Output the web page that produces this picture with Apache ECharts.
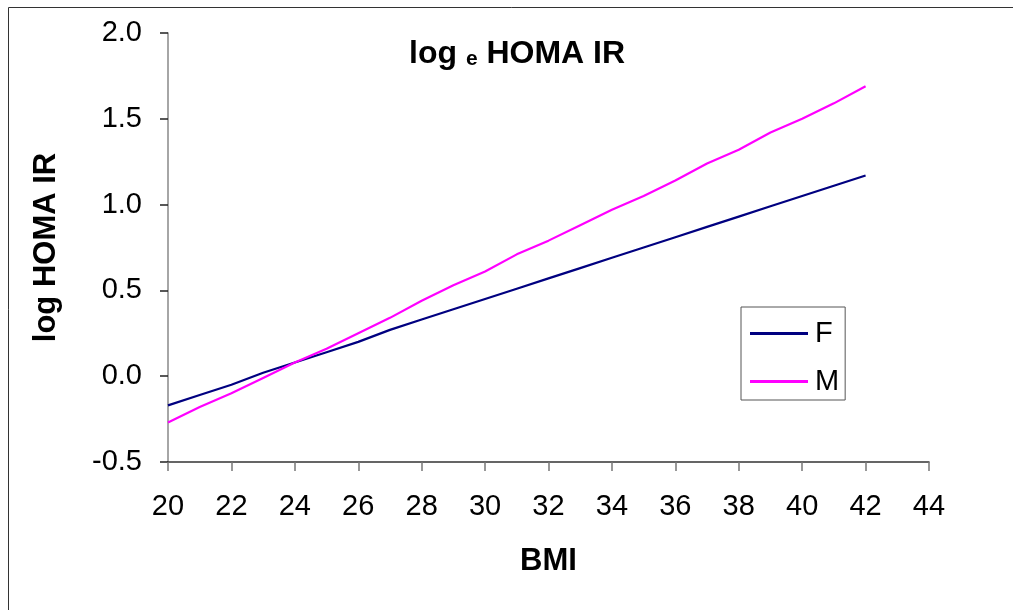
<!DOCTYPE html>
<html>
<head>
<meta charset="utf-8">
<script src="https://cdn.jsdelivr.net/npm/echarts@6/dist/echarts.min.js"></script>
<style>
  html, body { margin: 0; padding: 0; background: #fff; }
  #chart { width: 1013px; height: 610px; }
</style>
</head>
<body>
<div id="chart"></div>
<script>
// BMI values at which both fitted curves are sampled
const bmi = [20, 21, 22, 23, 24, 25, 26, 27, 28, 29, 30, 31, 32, 33, 34, 35, 36, 37, 38, 39, 40, 41, 42];
// Fitted log HOMA IR, females
const femaleVals = [-0.17, -0.11, -0.05, 0.02, 0.08, 0.14, 0.20, 0.27, 0.33, 0.39, 0.45, 0.51, 0.57, 0.63, 0.69, 0.75, 0.81, 0.87, 0.93, 0.99, 1.05, 1.11, 1.17];
// Fitted log HOMA IR, males
const maleVals = [-0.27, -0.18, -0.10, -0.01, 0.08, 0.16, 0.25, 0.34, 0.44, 0.53, 0.61, 0.71, 0.79, 0.88, 0.97, 1.05, 1.14, 1.24, 1.32, 1.42, 1.50, 1.59, 1.69];
const seriesNames = ['F', 'M'];

const FONT = '"Liberation Sans", Arial, sans-serif';

const pairs = (ys) => bmi.map((x, i) => [x, ys[i]]);

const chart = echarts.init(document.getElementById('chart'), null, { renderer: 'canvas' });

chart.setOption({
  backgroundColor: '#ffffff',
  animation: false,
  textStyle: { fontFamily: FONT, color: '#000' },
  title: {
    left: 404,
    top: 29,
    text: '{a|log }{b|e}{a| HOMA IR}',
    textStyle: {
      rich: {
        a: { fontFamily: FONT, fontSize: 32, fontWeight: 'bold', color: '#000', lineHeight: 36, verticalAlign: 'bottom' },
        b: { fontFamily: FONT, fontSize: 21, fontWeight: 'bold', color: '#000', lineHeight: 36, verticalAlign: 'bottom' }
      }
    }
  },
  graphic: [{
    type: 'rect',
    silent: true,
    shape: { x: 8.5, y: 7.5, width: 1100, height: 700 },
    style: { fill: 'none', stroke: '#333', lineWidth: 1 }
  }],
  legend: {
    orient: 'vertical',
    left: 741,
    top: 307,
    data: seriesNames,
    icon: 'rect',
    itemWidth: 58,
    itemHeight: 3,
    itemGap: 19,
    padding: [12, 6, 4, 9],
    borderColor: '#555',
    borderWidth: 1,
    textStyle: { fontFamily: FONT, fontSize: 29, color: '#000', padding: [0, 0, 0, 2] }
  },
  grid: { left: 168, right: 84, top: 33, bottom: 148, containLabel: false },
  xAxis: {
    type: 'value',
    min: 20,
    max: 44,
    interval: 2,
    name: 'BMI',
    nameLocation: 'middle',
    nameGap: 84,
    nameTextStyle: { fontFamily: FONT, fontSize: 31, fontWeight: 'bold', color: '#000' },
    axisLine: { onZero: false, lineStyle: { color: '#333', width: 1.5 } },
    axisTick: { show: true, length: 9, lineStyle: { color: '#777', width: 1.5 } },
    axisLabel: { fontFamily: FONT, fontSize: 29, color: '#000', margin: 30 },
    splitLine: { show: false }
  },
  yAxis: {
    type: 'value',
    min: -0.5,
    max: 2.0,
    interval: 0.5,
    name: 'log HOMA IR',
    nameLocation: 'middle',
    nameRotate: 90,
    nameGap: 106,
    nameTextStyle: { fontFamily: FONT, fontSize: 31, fontWeight: 'bold', color: '#000' },
    axisLine: { show: true, lineStyle: { color: '#888', width: 1.5 } },
    axisTick: { show: true, length: 8, lineStyle: { color: '#222', width: 1.5 } },
    axisLabel: { fontFamily: FONT, fontSize: 29, color: '#000', margin: 26, formatter: (v) => v.toFixed(1) },
    splitLine: { show: false }
  },
  series: [
    {
      name: seriesNames[0],
      type: 'line',
      data: pairs(femaleVals),
      symbol: 'none',
      lineStyle: { color: '#000080', width: 2.2 },
      itemStyle: { color: '#000080' },
      z: 3
    },
    {
      name: seriesNames[1],
      type: 'line',
      data: pairs(maleVals),
      symbol: 'none',
      lineStyle: { color: '#FF00FF', width: 2.2 },
      itemStyle: { color: '#FF00FF' },
      z: 4
    }
  ]
});
</script>
</body>
</html>
